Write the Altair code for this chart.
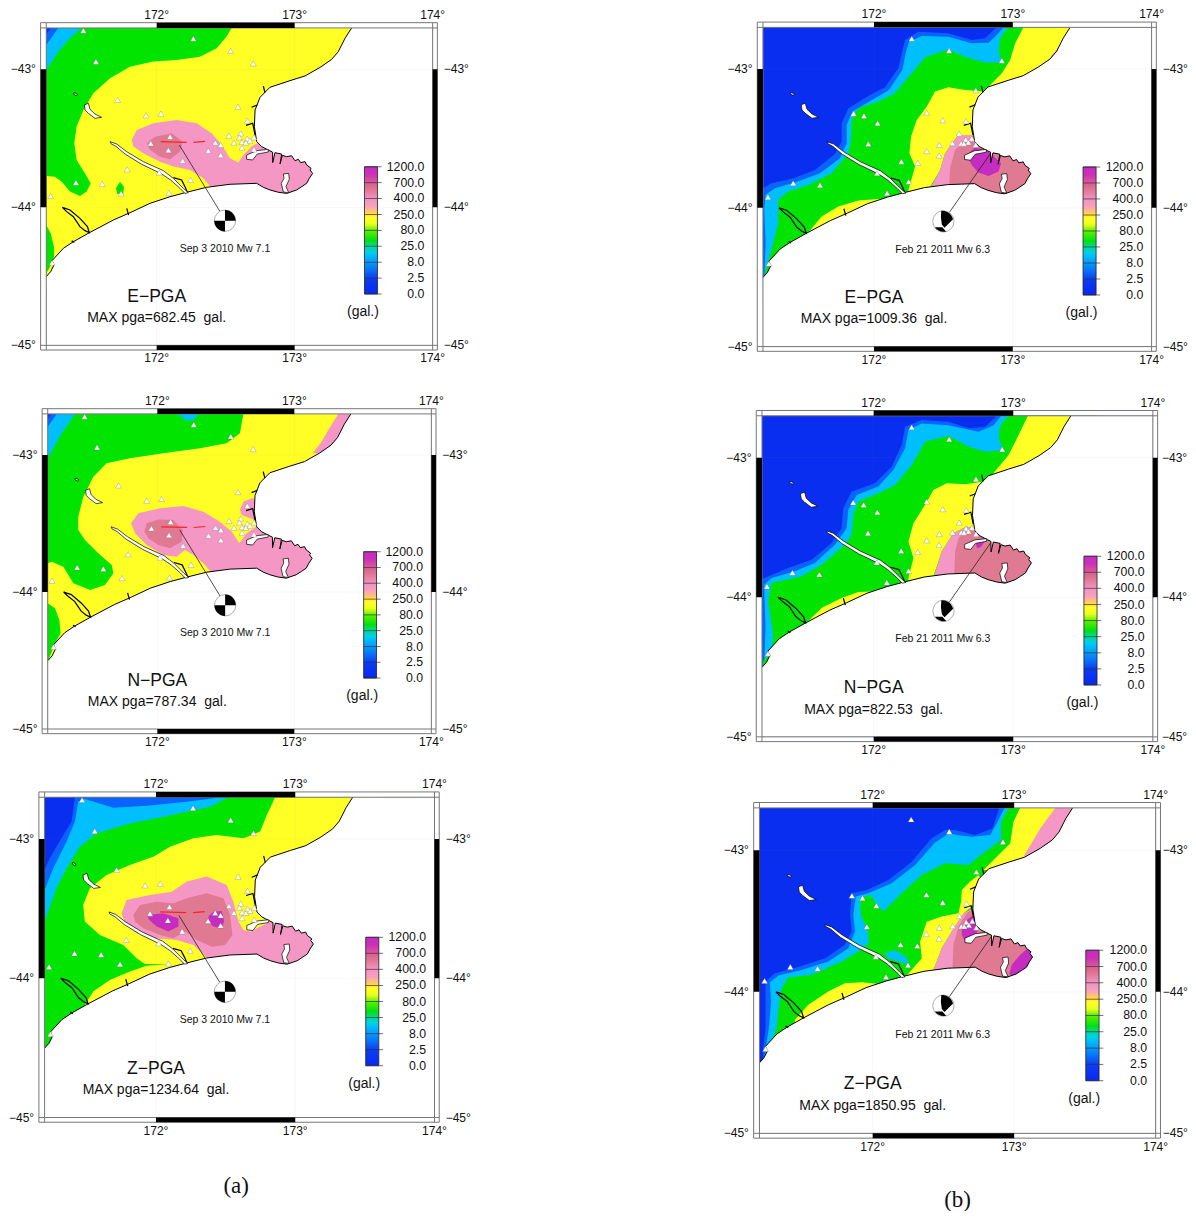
import altair as alt
import pandas as pd

FONT = "Liberation Sans"
BAND_NAMES = ["dark", "mid", "light", "green", "yellow", "pink", "deep", "purple"]
BAND_COLORS = ["#0a2ef0", "#0a62ff", "#00bfff", "#00e400", "#ffff26", "#f597c5", "#e07a92", "#c62cc0"]

COAST = [[171.2,-44.502],[171.232,-44.466],[171.256,-44.418],[171.242,-44.386],[171.324,-44.297],[171.396,-44.249],
 [171.512,-44.184],[171.686,-44.092],[171.807,-44.039],[171.952,-43.971],[172.097,-43.923],[172.217,-43.891],
 [172.362,-43.855],[172.531,-43.833],[172.725,-43.826],[172.773,-43.855],[172.821,-43.874],[172.882,-43.891],
 [172.942,-43.899],[173.014,-43.874],[173.051,-43.850],[173.087,-43.826],[173.106,-43.790],[173.130,-43.754],
 [173.111,-43.729],[173.119,-43.717],[173.087,-43.693],[173.075,-43.669],[173.043,-43.676],[173.027,-43.652],
 [173.002,-43.662],[172.978,-43.626],[172.942,-43.633],[172.911,-43.623],
 [172.894,-43.686],[172.906,-43.614],[172.857,-43.604],[172.841,-43.676],[172.840,-43.600],[172.809,-43.585],
 [172.761,-43.560],[172.725,-43.524],[172.708,-43.415],[172.713,-43.295],[172.749,-43.203],[172.821,-43.130],
 [172.966,-43.082],[173.075,-43.048],[173.184,-42.986],[173.268,-42.928],[173.316,-42.872],[173.365,-42.775],[173.413,-42.7]]
SEA_CORNERS = [[174.0,-42.7],[174.0,-45.0],[171.2,-45.0]]
MAP_RECT = [[171.2,-42.7],[174.0,-42.7],[174.0,-45.0],[171.2,-45.0]]

LAKES = [
 [[171.476,-43.258],[171.505,-43.246],[171.517,-43.290],[171.553,-43.324],[171.601,-43.348],[171.553,-43.355],[171.505,-43.319],[171.481,-43.295]],
 [[171.401,-43.169],[171.425,-43.179],[171.420,-43.191],[171.399,-43.181]],
 [[171.662,-43.524],[171.710,-43.541],[171.783,-43.597],[171.903,-43.669],[172.048,-43.734],[172.121,-43.790],[172.193,-43.862],[172.229,-43.894],
  [172.205,-43.899],[172.169,-43.862],[172.101,-43.802],[172.036,-43.758],[171.891,-43.688],[171.771,-43.614],[171.705,-43.558],[171.669,-43.539]],
 [[172.652,-43.621],[172.725,-43.589],[172.809,-43.580],[172.809,-43.599],[172.729,-43.614],[172.696,-43.657],[172.652,-43.652]],
 [[172.918,-43.758],[172.957,-43.754],[172.961,-43.797],[172.937,-43.850],[172.957,-43.894],[172.918,-43.889],[172.903,-43.826],[172.923,-43.790]],
]
RIVERS = [
 [[172.121,-43.785],[172.181,-43.802],[172.205,-43.850],[172.222,-43.889]],
 [[171.316,-44.000],[171.372,-44.019],[171.444,-44.080],[171.498,-44.140],[171.512,-44.184],[171.481,-44.169],[171.444,-44.140],[171.396,-44.068],[171.348,-44.031],[171.316,-44.000]],
 [[171.783,-44.007],[171.797,-44.056]],
 [[172.773,-43.121],[172.785,-43.169]],
 [[172.688,-43.275],[172.729,-43.258]],
 [[172.647,-43.406],[172.696,-43.391],[172.713,-43.476]],
 [[171.384,-44.242],[171.403,-44.254]],
]

A_STATIONS = [[171.469,-42.720],[172.266,-42.778],[172.536,-42.865],[171.560,-42.944],[172.700,-42.957],[171.717,-43.222],[172.589,-43.271],
 [172.031,-43.321],[171.923,-43.333],[172.657,-43.372],[172.097,-43.488],[172.524,-43.481],[172.609,-43.464],[172.599,-43.493],[172.657,-43.502],
 [172.705,-43.493],[171.957,-43.536],[172.425,-43.531],[172.560,-43.531],[172.618,-43.527],[172.647,-43.531],[172.464,-43.548],[172.676,-43.517],
 [172.618,-43.568],[172.085,-43.585],[172.374,-43.589],[172.705,-43.580],[172.464,-43.621],[172.188,-43.664],[171.787,-43.725],[172.019,-43.749],
 [172.246,-43.802],[171.415,-43.821],[171.606,-43.831],[172.089,-43.894],[171.742,-43.899],[171.232,-43.918],[171.242,-44.401]]
B_STATIONS = [[172.272,-42.782],[172.541,-42.868],[172.921,-42.940],[172.733,-43.153],[171.853,-43.321],[171.928,-43.338],[172.026,-43.391],
 [172.380,-43.314],[172.495,-43.369],[172.663,-43.376],[172.613,-43.465],[172.704,-43.501],[172.661,-43.508],[172.680,-43.528],[172.627,-43.537],
 [172.647,-43.537],[172.565,-43.535],[172.471,-43.547],[171.959,-43.540],[172.380,-43.592],[172.469,-43.624],[172.197,-43.667],[172.315,-43.676],
 [172.022,-43.751],[172.250,-43.811],[171.418,-43.823],[171.611,-43.837],[172.094,-43.894],[171.236,-43.923],[171.243,-44.403],[172.733,-43.547]]

A_FAULT = [[[172.029,-43.524],[172.217,-43.529]],[[172.266,-43.529],[172.350,-43.522]]]
A_LEADER = [[172.164,-43.548],[172.459,-44.031]]
B_LEADER = [[172.837,-43.612],[172.536,-44.043]]
A_BALL = [172.495,-44.097]
B_BALL = [172.5,-44.098]
A_BALL_PATH = "M0,0L0,-1A1,1 0 0 1 1,0ZM0,0L0,1A1,1 0 0 1 -1,0Z"
B_BALL_PATH = "M-0.2,-1A1,1 0 0 1 0.9,-0.2L0.1,0.6L-0.15,0.3Q-0.3,-0.4 -0.2,-1ZM-0.8,0.55L-0.1,0.55L0.25,0.95A1,1 0 0 1 -0.8,0.55Z"

A1_BANDS = [
 ("green", MAP_RECT),
 ("light", [[171.2,-42.7],[171.457,-42.7],[171.372,-42.775],[171.287,-42.872],[171.2,-43.005]]),
 ("mid", [[171.2,-42.7],[171.287,-42.7],[171.2,-42.824]]),
 ("dark", [[171.2,-42.7],[171.232,-42.7],[171.2,-42.744]]),
 ("yellow", [[172.543,-42.7],[172.507,-42.763],[172.435,-42.848],[172.314,-42.908],[172.145,-42.932],[171.976,-42.944],[171.807,-42.981],[171.662,-43.065],
   [171.541,-43.174],[171.469,-43.295],[171.420,-43.415],[171.403,-43.536],[171.420,-43.657],[171.481,-43.754],[171.522,-43.826],[171.493,-43.886],[171.444,-43.918],
   [171.372,-43.886],[171.312,-43.814],[171.263,-43.778],[171.2,-43.773],[171.2,-44.6],[173.6,-44.6],[173.6,-42.7]]),
 ("green", [[171.2,-44.128],[171.232,-44.188],[171.256,-44.285],[171.256,-44.357],[171.227,-44.430],[171.2,-44.478]]),
 ("green", [[171.705,-43.862],[171.734,-43.814],[171.763,-43.850],[171.758,-43.899],[171.715,-43.903]]),
 ("pink", [[171.819,-43.512],[171.855,-43.440],[171.976,-43.391],[172.145,-43.367],[172.290,-43.391],[172.399,-43.464],[172.471,-43.548],[172.531,-43.645],[172.592,-43.676],
   [172.628,-43.621],[172.688,-43.560],[172.749,-43.524],[173.208,-43.633],[173.208,-43.947],[172.676,-43.947],[172.399,-43.862],[172.338,-43.790],[172.242,-43.729],
   [172.121,-43.705],[172.024,-43.669],[171.903,-43.609],[171.831,-43.560]]),
 ("deep", [[171.928,-43.536],[171.988,-43.488],[172.109,-43.464],[172.188,-43.524],[172.169,-43.597],[172.097,-43.652],[172.024,-43.633],[171.952,-43.585]]),
]
A2_BANDS = [
 ("green", MAP_RECT),
 ("light", [[171.2,-42.7],[171.399,-42.7],[171.302,-42.842],[171.2,-43.024]]),
 ("mid", [[171.2,-42.7],[171.265,-42.7],[171.2,-42.793]]),
 ("dark", [[171.2,-42.7],[171.221,-42.7],[171.2,-42.745]]),
 ("light", [[172.153,-42.7],[172.299,-42.7],[172.263,-42.749],[172.202,-42.745]]),
 ("yellow", [[172.628,-42.7],[172.603,-42.842],[172.506,-42.915],[172.311,-42.951],[172.044,-42.988],[171.800,-43.024],[171.630,-43.061],[171.533,-43.158],[171.460,-43.304],
   [171.423,-43.450],[171.423,-43.547],[171.472,-43.620],[171.569,-43.718],[171.667,-43.803],[171.679,-43.864],[171.618,-43.949],[171.509,-43.985],[171.387,-43.937],
   [171.314,-43.815],[171.229,-43.779],[171.2,-43.791],[171.2,-44.6],[173.6,-44.6],[173.6,-42.7]]),
 ("green", [[171.2,-44.083],[171.253,-44.119],[171.285,-44.204],[171.294,-44.302],[171.253,-44.375],[171.2,-44.509]]),
 ("pink", [[173.321,-42.7],[173.248,-42.818],[173.199,-42.903],[173.134,-42.988],[173.504,-42.988],[173.504,-42.7]]),
 ("pink", [[171.808,-43.499],[171.861,-43.426],[172.019,-43.389],[172.190,-43.372],[172.336,-43.414],[172.457,-43.487],[172.543,-43.560],[172.599,-43.645],[172.652,-43.572],
   [172.774,-43.487],[173.212,-43.596],[173.212,-43.985],[172.676,-43.985],[172.397,-43.859],[172.336,-43.791],[172.263,-43.730],[172.202,-43.693],[172.141,-43.742],
   [172.044,-43.730],[171.922,-43.657],[171.837,-43.572]]),
 ("pink", [[172.603,-43.401],[172.628,-43.341],[172.689,-43.316],[172.749,-43.328],[172.774,-43.499],[172.676,-43.462],[172.616,-43.438]]),
 ("deep", [[171.905,-43.560],[171.922,-43.499],[172.007,-43.470],[172.117,-43.474],[172.185,-43.547],[172.178,-43.633],[172.092,-43.681],[172.007,-43.657],[171.934,-43.608]]),
]
A3_BANDS = [
 ("green", MAP_RECT),
 ("light", [[172.520,-42.7],[172.388,-42.768],[172.221,-42.804],[172.053,-42.840],[171.813,-42.888],[171.573,-42.959],[171.453,-43.055],[171.357,-43.211],[171.285,-43.354],[171.2,-43.593],[171.2,-42.7]]),
 ("mid", [[172.472,-42.7],[172.221,-42.732],[171.933,-42.761],[171.693,-42.775],[171.489,-42.713],[171.441,-42.732],[171.417,-42.876],[171.357,-43.019],[171.261,-43.211],[171.2,-43.366],[171.2,-42.7]]),
 ("dark", [[171.2,-42.7],[171.417,-42.7],[171.393,-42.876],[171.321,-42.995],[171.237,-43.139],[171.2,-43.222]]),
 ("yellow", [[172.856,-42.7],[172.796,-42.828],[172.748,-42.947],[172.628,-42.995],[172.436,-42.971],[172.269,-42.995],[172.101,-43.055],[171.981,-43.127],[171.813,-43.187],
   [171.645,-43.258],[171.525,-43.354],[171.477,-43.474],[171.489,-43.593],[171.597,-43.689],[171.765,-43.761],[171.861,-43.856],[171.921,-43.897],[172.089,-43.900],
   [171.933,-43.911],[171.813,-43.952],[171.669,-44.012],[171.549,-44.096],[171.489,-44.191],[171.489,-44.6],[173.6,-44.6],[173.6,-42.7]]),
 ("pink", [[171.753,-43.533],[171.789,-43.438],[171.957,-43.402],[172.113,-43.378],[172.221,-43.306],[172.365,-43.270],[172.508,-43.330],[172.556,-43.450],[172.592,-43.593],
   [172.628,-43.653],[172.676,-43.665],[172.820,-43.593],[173.204,-43.593],[173.204,-44.0],[172.676,-44.0],[172.365,-43.852],[172.269,-43.761],[172.149,-43.725],
   [172.005,-43.713],[171.861,-43.677],[171.777,-43.605]]),
 ("deep", [[171.837,-43.545],[171.885,-43.474],[172.005,-43.450],[172.125,-43.462],[172.221,-43.426],[172.365,-43.390],[172.484,-43.426],[172.532,-43.545],[172.549,-43.689],
   [172.496,-43.761],[172.400,-43.773],[172.293,-43.725],[172.209,-43.665],[172.125,-43.713],[172.029,-43.689],[171.909,-43.641],[171.849,-43.593]]),
 ("purple", [[171.933,-43.545],[172.053,-43.533],[172.161,-43.569],[172.161,-43.629],[172.089,-43.665],[172.005,-43.629],[171.952,-43.581]]),
 ("purple", [[172.376,-43.557],[172.412,-43.522],[172.472,-43.517],[172.489,-43.593],[172.472,-43.641],[172.412,-43.629],[172.376,-43.593]]),
]
B1_BANDS = [
 ("dark", MAP_RECT),
 ("mid", [[172.885,-42.7],[172.800,-42.779],[172.704,-42.791],[172.536,-42.743],[172.320,-42.731],[172.224,-42.791],[172.200,-42.887],[172.175,-42.995],[172.079,-43.132],[171.971,-43.187],
   [171.815,-43.283],[171.767,-43.391],[171.767,-43.523],[171.719,-43.612],[171.575,-43.727],[171.418,-43.787],[171.262,-43.823],[171.2,-43.859],[171.2,-44.7],[173.6,-44.7],[173.6,-42.7]]),
 ("light", [[172.933,-42.7],[172.885,-42.755],[172.825,-42.811],[172.704,-42.815],[172.536,-42.767],[172.344,-42.763],[172.252,-42.803],[172.228,-42.887],[172.204,-43.007],[172.108,-43.151],
   [171.995,-43.218],[171.844,-43.307],[171.803,-43.403],[171.803,-43.535],[171.755,-43.643],[171.611,-43.751],[171.430,-43.818],[171.286,-43.859],[171.219,-43.906],[171.209,-44.014],
   [171.219,-44.254],[171.209,-44.518],[171.209,-44.7],[173.6,-44.7],[173.6,-42.7]]),
 ("green", [[172.964,-42.7],[172.909,-42.779],[172.897,-42.875],[172.921,-42.954],[172.800,-42.954],[172.656,-42.911],[172.536,-42.859],[172.368,-42.916],[172.272,-43.031],[172.151,-43.175],
   [172.031,-43.235],[171.887,-43.283],[171.839,-43.367],[171.834,-43.511],[171.815,-43.607],[171.695,-43.751],[171.526,-43.835],[171.382,-43.882],[171.310,-43.942],[171.310,-44.110],
   [171.274,-44.254],[171.214,-44.470],[171.214,-44.7],[173.6,-44.7],[173.6,-42.7]]),
 ("yellow", [[173.077,-42.7],[173.017,-42.815],[172.981,-42.935],[172.921,-43.031],[172.813,-43.139],[173.6,-43.139],[173.6,-42.7]]),
 ("yellow", [[172.788,-43.163],[172.656,-43.151],[172.536,-43.132],[172.440,-43.163],[172.380,-43.271],[172.308,-43.367],[172.267,-43.487],[172.255,-43.607],[172.296,-43.703],[172.248,-43.871],
   [172.248,-43.942],[172.416,-43.942],[172.406,-43.847],[172.476,-43.727],[172.512,-43.607],[172.572,-43.523],[172.608,-43.475],[172.752,-43.487],[172.825,-43.295]]),
 ("yellow", [[171.502,-44.206],[171.623,-44.062],[171.743,-43.990],[171.887,-43.947],[172.127,-43.930],[172.127,-44.062],[171.502,-44.302]]),
 ("pink", [[173.269,-42.911],[173.317,-42.859],[173.389,-42.763],[173.474,-42.763],[173.474,-42.911]]),
 ("pink", [[172.406,-43.859],[172.476,-43.727],[172.512,-43.607],[172.572,-43.523],[172.608,-43.475],[172.704,-43.475],[172.800,-43.583],[172.800,-44.014],[172.406,-44.014]]),
 ("deep", [[172.541,-43.847],[172.548,-43.715],[172.584,-43.583],[172.632,-43.535],[172.704,-43.523],[172.800,-43.571],[173.185,-43.607],[173.185,-43.990],[172.728,-43.990],[172.680,-43.847]]),
 ("purple", [[172.668,-43.619],[172.728,-43.564],[172.825,-43.595],[172.916,-43.679],[172.897,-43.739],[172.825,-43.770],[172.752,-43.746],[172.704,-43.691]]),
]
B2_BANDS = [
 ("dark", MAP_RECT),
 ("mid", [[172.883,-42.7],[172.799,-42.779],[172.679,-42.790],[172.536,-42.743],[172.344,-42.731],[172.225,-42.779],[172.201,-42.910],[172.129,-43.064],[172.010,-43.183],[171.842,-43.243],
   [171.782,-43.362],[171.770,-43.505],[171.699,-43.612],[171.555,-43.731],[171.388,-43.790],[171.2,-43.869],[171.2,-44.7],[173.6,-44.7],[173.6,-42.7]]),
 ("light", [[172.914,-42.7],[172.859,-42.767],[172.751,-42.814],[172.536,-42.767],[172.344,-42.755],[172.249,-42.802],[172.225,-42.933],[172.141,-43.088],[172.033,-43.207],[171.878,-43.267],
   [171.818,-43.374],[171.806,-43.505],[171.722,-43.624],[171.579,-43.755],[171.435,-43.814],[171.268,-43.862],[171.215,-43.910],[171.225,-44.219],[171.215,-44.493],[171.215,-44.7],[173.6,-44.7],[173.6,-42.7]]),
 ("green", [[172.967,-42.7],[172.907,-42.767],[172.895,-42.862],[172.931,-42.945],[172.799,-42.957],[172.679,-42.921],[172.536,-42.843],[172.368,-42.886],[172.273,-43.052],[172.153,-43.195],
   [172.033,-43.255],[171.890,-43.314],[171.854,-43.410],[171.842,-43.552],[171.794,-43.624],[171.627,-43.767],[171.483,-43.850],[171.268,-43.898],[171.244,-44.029],[171.280,-44.267],
   [171.268,-44.386],[171.208,-44.457],[171.208,-44.7],[173.6,-44.7],[173.6,-42.7]]),
 ("yellow", [[173.105,-42.7],[173.026,-42.862],[172.967,-42.981],[172.847,-43.124],[173.6,-43.124],[173.6,-42.7]]),
 ("yellow", [[172.787,-43.171],[172.656,-43.190],[172.524,-43.183],[172.428,-43.231],[172.368,-43.338],[172.285,-43.469],[172.249,-43.600],[172.285,-43.719],[172.249,-43.862],[172.249,-43.933],
   [172.428,-43.933],[172.428,-43.850],[172.488,-43.671],[172.572,-43.540],[172.667,-43.493],[172.751,-43.517],[172.799,-43.267]]),
 ("yellow", [[171.519,-44.183],[171.627,-44.076],[171.770,-44.005],[171.890,-43.962],[172.033,-43.957],[172.033,-44.076],[171.519,-44.267]]),
 ("pink", [[172.428,-43.862],[172.488,-43.671],[172.572,-43.540],[172.667,-43.493],[172.751,-43.517],[172.799,-43.981],[172.428,-43.981]]),
 ("deep", [[172.577,-43.838],[172.584,-43.671],[172.608,-43.576],[172.667,-43.517],[172.751,-43.529],[172.823,-43.576],[173.182,-43.576],[173.182,-43.981],[172.727,-43.981],[172.679,-43.838]]),
 ("purple", [[172.727,-43.605],[172.756,-43.581],[172.794,-43.600],[172.770,-43.638],[172.742,-43.648]]),
]
B3_BANDS = [
 ("dark", MAP_RECT),
 ("mid", [[172.894,-42.7],[172.847,-42.845],[172.724,-42.892],[172.583,-42.856],[172.512,-42.856],[172.417,-42.915],[172.276,-43.080],[172.111,-43.209],[171.958,-43.280],[171.851,-43.304],
   [171.840,-43.456],[171.851,-43.574],[171.804,-43.668],[171.663,-43.762],[171.486,-43.821],[171.309,-43.868],[171.243,-43.927],[171.243,-44.256],[171.226,-44.398],[171.226,-44.7],[173.6,-44.7],[173.6,-42.7]]),
 ("light", [[172.932,-42.7],[172.877,-42.809],[172.830,-42.892],[172.700,-42.904],[172.594,-42.892],[172.540,-42.880],[172.441,-42.944],[172.300,-43.104],[172.134,-43.233],[171.969,-43.304],
   [171.880,-43.327],[171.863,-43.456],[171.875,-43.574],[171.828,-43.692],[171.686,-43.786],[171.498,-43.845],[171.333,-43.885],[171.274,-43.932],[171.281,-44.068],[171.267,-44.256],
   [171.243,-44.398],[171.243,-44.7],[173.6,-44.7],[173.6,-42.7]]),
 ("green", [[172.960,-42.7],[172.908,-42.798],[172.908,-42.927],[172.844,-42.974],[172.748,-43.045],[172.677,-43.104],[172.512,-43.092],[172.347,-43.174],[172.205,-43.304],[172.075,-43.433],
   [171.981,-43.315],[171.910,-43.339],[171.917,-43.456],[171.965,-43.574],[171.974,-43.656],[171.899,-43.715],[171.781,-43.786],[171.568,-43.880],[171.403,-43.899],[171.356,-43.974],
   [171.333,-44.139],[171.321,-44.256],[171.262,-44.398],[171.215,-44.492],[171.215,-44.7],[173.6,-44.7],[173.6,-42.7]]),
 ("light", [[172.083,-43.727],[172.158,-43.704],[172.241,-43.758],[172.252,-43.809],[172.182,-43.786],[172.111,-43.762]]),
 ("yellow", [[173.042,-42.7],[172.995,-42.798],[172.972,-42.951],[172.889,-43.033],[172.783,-43.139],[173.6,-43.139],[173.6,-42.7]]),
 ("pink", [[173.290,-42.7],[173.184,-42.845],[173.066,-43.045],[173.455,-43.045],[173.455,-42.7]]),
 ("yellow", [[172.748,-43.174],[172.689,-43.221],[172.630,-43.280],[172.625,-43.362],[172.606,-43.445],[172.488,-43.468],[172.382,-43.504],[172.335,-43.645],[172.347,-43.762],[172.241,-43.885],
   [172.241,-43.951],[172.429,-43.951],[172.429,-43.845],[172.488,-43.692],[172.559,-43.574],[172.642,-43.445],[172.700,-43.398],[172.795,-43.245]]),
 ("yellow", [[171.450,-44.198],[171.545,-44.092],[171.686,-43.998],[171.804,-43.939],[171.922,-43.932],[172.064,-43.946],[172.064,-44.092],[171.450,-44.327]]),
 ("pink", [[172.429,-43.845],[172.488,-43.692],[172.559,-43.574],[172.642,-43.445],[172.724,-43.398],[172.818,-43.598],[172.818,-43.998],[172.429,-43.998]]),
 ("deep", [[172.564,-43.833],[172.571,-43.668],[172.606,-43.539],[172.665,-43.445],[172.724,-43.398],[172.818,-43.598],[173.196,-43.645],[173.196,-43.974],[172.748,-43.974],[172.700,-43.833]]),
 ("purple", [[172.630,-43.546],[172.665,-43.492],[172.705,-43.461],[172.748,-43.551],[172.724,-43.609],[172.653,-43.645],[172.630,-43.598]]),
 ("purple", [[172.967,-43.868],[172.983,-43.809],[173.031,-43.751],[173.090,-43.696],[173.172,-43.739],[173.172,-43.856],[173.007,-43.927]]),
]

CB_LABELS = ["0.0", "2.5", "8.0", "25.0", "80.0", "250.0", "400.0", "700.0", "1200.0"]
CB_LATS = [-44.628, -44.513, -44.398, -44.282, -44.167, -44.052, -43.936, -43.821, -43.706]
CB_STOPS = [(0, "#0a28f0"), (0.12, "#0a3cf5"), (0.2, "#0a78f8"), (0.29, "#00b4ff"), (0.33, "#00d0e8"), (0.38, "#00d890"),
            (0.42, "#00e010"), (0.5, "#60f000"), (0.55, "#e8ff20"), (0.6, "#ffff20"), (0.645, "#ffc864"), (0.69, "#f8a0c0"),
            (0.76, "#f090c0"), (0.82, "#e07890"), (0.88, "#d85898"), (0.94, "#cc30b8"), (1, "#c42cc4")]
CB_RECT = [[173.506,-43.706],[173.60,-43.706],[173.60,-44.628],[173.506,-44.628]]

OUT_W, OUT_E, OUT_N, OUT_S = 171.159, 174.034, -42.662, -45.034
FRAME_LINES = [
 [[OUT_W,OUT_N],[OUT_E,OUT_N],[OUT_E,OUT_S],[OUT_W,OUT_S],[OUT_W,OUT_N]],
 [[171.2,OUT_N],[171.2,OUT_S]], [[174.0,OUT_N],[174.0,OUT_S]],
 [[OUT_W,-42.7],[OUT_E,-42.7]], [[OUT_W,-45.0],[OUT_E,-45.0]],
]
FRAME_BARS = [
 [[172,OUT_N],[173,OUT_N],[173,-42.7],[172,-42.7]],
 [[172,-45.0],[173,-45.0],[173,OUT_S],[172,OUT_S]],
 [[OUT_W,-43],[171.2,-43],[171.2,-44],[OUT_W,-44]],
 [[174.0,-43],[OUT_E,-43],[OUT_E,-44],[174.0,-44]],
]
GRID = [[[172,-42.7],[172,-45]],[[173,-42.7],[173,-45]],[[171.2,-43],[174,-43]],[[171.2,-44],[174,-44]]]

LON_LABELS = [(172, "172°"), (173, "173°"), (174, "174°")]
LAT_LABELS = [(-43, "−43°"), (-44, "−44°"), (-45, "−45°")]

PANELS = [
 dict(bands=A1_BANDS, st=A_STATIONS, kind="a", ev="Sep 3 2010 Mw 7.1", title="E−PGA", mx="MAX pga=682.45\u00a0 gal.", px=156.67, py=69.33, s=138.0, ox=8, oy=8, rlon=174.08),
 dict(bands=A2_BANDS, st=A_STATIONS, kind="a", ev="Sep 3 2010 Mw 7.1", title="N−PGA", mx="MAX pga=787.34\u00a0 gal.", px=157.33, py=455.0, s=137.0, ox=8, oy=380, rlon=174.08),
 dict(bands=A3_BANDS, st=A_STATIONS, kind="a", ev="Sep 3 2010 Mw 7.1", title="Z−PGA", mx="MAX pga=1234.64\u00a0 gal.", px=156.0, py=839.0, s=139.25, ox=8, oy=768, rlon=174.08, cap="(a)", caplon=172.576, caplat=-45.489),
 dict(bands=B1_BANDS, st=B_STATIONS, kind="b", ev="Feb 21 2011 Mw 6.3", title="E−PGA", mx="MAX pga=1009.36\u00a0 gal.", px=874.0, py=69.0, s=138.8, ox=600, oy=8, rlon=174.08),
 dict(bands=B2_BANDS, st=B_STATIONS, kind="b", ev="Feb 21 2011 Mw 6.3", title="N−PGA", mx="MAX pga=822.53\u00a0 gal.", px=873.67, py=457.67, s=139.6, ox=600, oy=380, rlon=174.065),
 dict(bands=B3_BANDS, st=B_STATIONS, kind="b", ev="Feb 21 2011 Mw 6.3", title="Z−PGA", mx="MAX pga=1850.95\u00a0 gal.", px=872.67, py=850.33, s=141.5, ox=600, oy=768, rlon=174.05, cap="(b)", caplon=172.60, caplat=-45.473),
]
ROW_H = {8: 372, 380: 388, 768: 443}
COL_W = {8: 592, 600: 588}

# Vega-Lite keeps a single projection for the whole concat, so every panel shares this one
# and its own map scale and offset are applied to the coordinates before they reach it.
SHARED_SCALE = 139.0
SHARED_X, SHARED_Y = 150.0, 61.0
SHARED = dict(type="identity", reflectY=True, scale=SHARED_SCALE,
              translate=[SHARED_X - 172 * SHARED_SCALE, SHARED_Y - 43 * SHARED_SCALE])


def panel(p):
    k = p["s"] / SHARED_SCALE
    dx = (p["px"] - p["ox"] - SHARED_X) / SHARED_SCALE
    dy = (p["py"] - p["oy"] - SHARED_Y) / SHARED_SCALE

    def geo(c):
        return [172 + (c[0] - 172) * k + dx, -43 + (c[1] + 43) * k - dy]

    def poly(coords, **props):
        ring = [geo(c) for c in coords]
        return {"type": "Feature", "properties": props,
                "geometry": {"type": "Polygon", "coordinates": [ring + [ring[0]]]}}

    def line(coords):
        return {"type": "Feature", "properties": {},
                "geometry": {"type": "LineString", "coordinates": [geo(c) for c in coords]}}

    def points(rows):
        return pd.DataFrame([geo(r) for r in rows], columns=["lon", "lat"])

    def text_layer(rows, size, align="center", font=FONT, color="#111"):
        df = pd.DataFrame([geo(r[:2]) + [r[2]] for r in rows], columns=["lon", "lat", "t"])
        return alt.Chart(df).mark_text(fontSize=size, align=align, baseline="middle", font=font, color=color).encode(
            longitude="lon:Q", latitude="lat:Q", text="t:N")

    isa = p["kind"] == "a"
    ball = A_BALL if isa else B_BALL
    ball_path = A_BALL_PATH if isa else B_BALL_PATH
    leader = A_LEADER if isa else B_LEADER
    band_scale = alt.Scale(domain=BAND_NAMES, range=BAND_COLORS)
    st = points(p["st"])
    ball_df = points([ball])

    layers = [
        alt.Chart(alt.Data(values=[poly(c, band=b) for b, c in p["bands"]])).mark_geoshape(strokeWidth=0).encode(
            fill=alt.Fill("properties.band:N", scale=band_scale, legend=None)),
        alt.Chart(alt.Data(values=[poly(COAST + SEA_CORNERS)])).mark_geoshape(fill="#ffffff", strokeWidth=0),
        alt.Chart(alt.Data(values=[line(g) for g in GRID])).mark_geoshape(filled=False, stroke="#888888", strokeWidth=0.6, opacity=0.1),
        alt.Chart(alt.Data(values=[line(COAST)])).mark_geoshape(filled=False, stroke="#000000", strokeWidth=1),
        alt.Chart(alt.Data(values=[line(r) for r in RIVERS])).mark_geoshape(filled=False, stroke="#000000", strokeWidth=1.2),
        alt.Chart(alt.Data(values=[poly(c) for c in LAKES])).mark_geoshape(fill="#ffffff", stroke="#000000", strokeWidth=0.7),
        alt.Chart(alt.Data(values=[line(c) for c in FRAME_LINES])).mark_geoshape(filled=False, stroke="#777777", strokeWidth=1),
        alt.Chart(alt.Data(values=[poly(c) for c in FRAME_BARS])).mark_geoshape(fill="#000000", strokeWidth=0),
        alt.Chart(alt.Data(values=[poly(CB_RECT)])).mark_geoshape(
            fill=alt.Gradient(gradient="linear", x1=0, x2=0, y1=1, y2=0,
                              stops=[alt.GradientStop(offset=o, color=c) for o, c in CB_STOPS]),
            stroke="#222222", strokeWidth=0.8),
        alt.Chart(alt.Data(values=[line([[173.506, v], [173.63, v]]) for v in CB_LATS])).mark_geoshape(
            filled=False, stroke="#333333", strokeWidth=0.7),
        alt.Chart(st).mark_point(shape="triangle-up", size=36, filled=True, fill="#ffffff", stroke="#666666",
                                 strokeWidth=0.3, opacity=1).encode(longitude="lon:Q", latitude="lat:Q"),
        alt.Chart(alt.Data(values=[line(leader)])).mark_geoshape(filled=False, stroke="#222222", strokeWidth=0.8),
        alt.Chart(ball_df).mark_point(shape="circle", size=455, filled=True, fill="#ffffff", stroke="#999999",
                                      strokeWidth=0.8, opacity=1).encode(longitude="lon:Q", latitude="lat:Q"),
        alt.Chart(ball_df).mark_point(shape=ball_path, size=455, filled=True, fill="#000000", opacity=1).encode(
            longitude="lon:Q", latitude="lat:Q"),
        text_layer([[lon, -42.607, t] for lon, t in LON_LABELS] + [[lon, -45.095, t] for lon, t in LON_LABELS], 12),
        text_layer([[171.125, lat, t] for lat, t in LAT_LABELS], 12, align="right"),
        text_layer([[p["rlon"], lat, t] for lat, t in LAT_LABELS], 12, align="left"),
        text_layer([[173.94, v, t] for v, t in zip(CB_LATS, CB_LABELS)], 12.3, align="right"),
        text_layer([[173.495, -44.757, "(gal.)"]], 14),
        text_layer([[172.495, -44.302, p["ev"]]], 10.5),
        text_layer([[172.0, -44.652, p["title"]]], 17.5),
        text_layer([[172.0, -44.804, p["mx"]]], 14),
    ]
    if isa:
        layers.insert(11, alt.Chart(alt.Data(values=[line(f) for f in A_FAULT])).mark_geoshape(
            filled=False, stroke="#ff2020", strokeWidth=1.2))
    if "cap" in p:
        layers.append(text_layer([[p["caplon"], p["caplat"], p["cap"]]], 23, font="Liberation Serif"))
    layers = [l.project(**SHARED) for l in layers]
    return alt.layer(*layers).properties(width=COL_W[p["ox"]], height=ROW_H[p["oy"]])


left = alt.vconcat(*[panel(p) for p in PANELS[:3]], spacing=0)
right = alt.vconcat(*[panel(p) for p in PANELS[3:]], spacing=0)
chart = alt.hconcat(left, right, spacing=0).properties(
    padding=0, background="#ffffff"
).configure_view(stroke=None)
chart.save("out.html", embed_options={"renderer": "svg", "actions": False})
